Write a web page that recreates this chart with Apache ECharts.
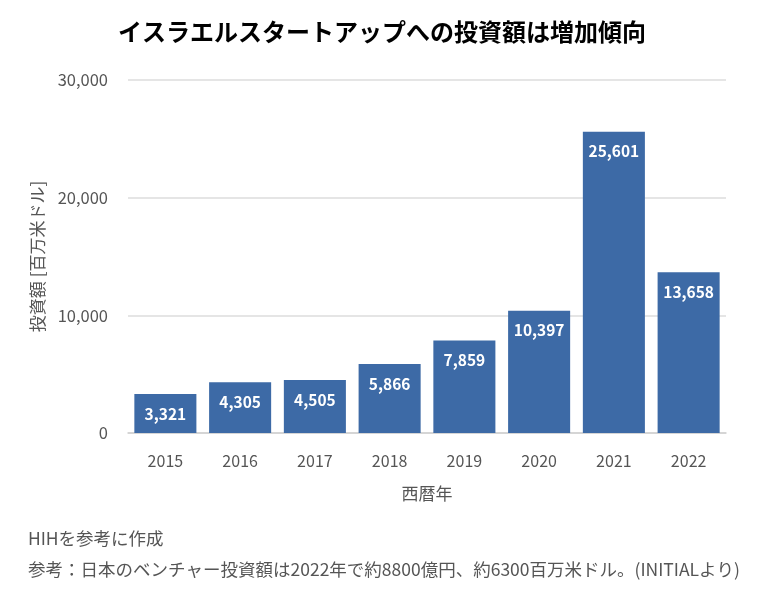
<!DOCTYPE html>
<html>
<head>
<meta charset="utf-8">
<script src="https://cdn.jsdelivr.net/npm/echarts@6/dist/echarts.min.js"></script>
<style>
html,body{margin:0;padding:0;background:#fff;}
#c{width:768px;height:594px;}
</style>
</head>
<body>
<div id="c"></div>
<script>
const years = ['2015','2016','2017','2018','2019','2020','2021','2022'];
const investment = [3321, 4305, 4505, 5866, 7859, 10397, 25601, 13658];
const yTicks = [0, 10000, 20000, 30000];
const titleText = 'イスラエルスタートアップへの投資額は増加傾向';
const yName = '投資額 [百万米ドル]';
const xName = '西暦年';
const notes = ['HIHを参考に作成', '参考：日本のベンチャー投資額は2022年で約8800億円、約6300百万米ドル。(INITIALより)'];

const font = '"Noto Sans CJK JP", "Noto Sans", sans-serif';
const chart = echarts.init(document.getElementById('c'));
chart.setOption({
  backgroundColor: '#fff',
  textStyle: {fontFamily: font},
  title: {
    text: titleText,
    left: 377, top: 15, textAlign: 'center',
    textStyle: {fontSize: 24, fontWeight: 'bold', color: '#000', fontFamily: font}
  },
  graphic: notes.map((t, i) => ({
    type: 'text', left: 28, top: 530 + i * 31,
    style: {text: t, fontSize: 17.5, fill: '#555', fontFamily: font}
  })),
  grid: {left: 128, right: 42, top: 80, bottom: 161},
  xAxis: {
    type: 'category', data: years,
    name: xName, nameLocation: 'middle', nameGap: 52,
    nameTextStyle: {fontSize: 17, color: '#555', fontFamily: font},
    axisLine: {lineStyle: {color: '#cfcfcf', width: 1.5}},
    axisTick: {show: false},
    axisLabel: {fontSize: 16, color: '#555', margin: 20, fontFamily: font}
  },
  yAxis: {
    type: 'value', min: yTicks[0], max: yTicks[yTicks.length - 1], interval: 10000,
    name: yName, nameLocation: 'middle', nameGap: 82, nameRotate: 90,
    nameTextStyle: {fontSize: 17, color: '#555', fontFamily: font},
    axisLine: {show: false}, axisTick: {show: false},
    axisLabel: {fontSize: 16.5, color: '#555', margin: 20, fontFamily: font,
      formatter: v => v.toLocaleString('en-US')},
    splitLine: {lineStyle: {color: '#dcdcdc', width: 1.5}}
  },
  series: [{
    type: 'bar', data: investment, barCategoryGap: '17%',
    itemStyle: {color: '#3d6aa6'},
    label: {
      show: true, position: 'insideTop', distance: 12,
      color: '#fff', fontWeight: 'bold', fontSize: 15.5, fontFamily: font,
      formatter: p => p.value.toLocaleString('en-US')
    }
  }],
  animation: false
});
</script>
</body>
</html>
